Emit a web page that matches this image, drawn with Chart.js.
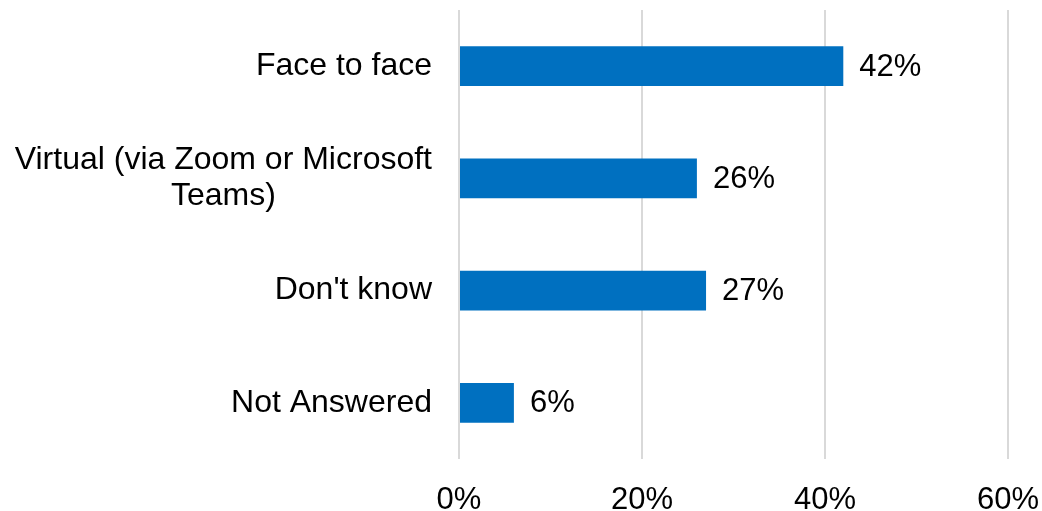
<!DOCTYPE html>
<html>
<head>
<meta charset="utf-8">
<title>Meeting format preference</title>
<script src="https://cdn.jsdelivr.net/npm/chart.js@4/dist/chart.umd.min.js"></script>
<style>
  html, body { margin: 0; padding: 0; background: #ffffff; }
  #wrap { width: 1042px; height: 511px; }
</style>
</head>
<body>
<div id="wrap"><canvas id="chart" width="1042" height="511"></canvas></div>
<script>
// Survey answers and their shares (%)
const categories = [
  'Face to face',
  ['Virtual (via Zoom or Microsoft', 'Teams)'],
  "Don't know",
  'Not Answered'
];
const values = [42, 26, 27, 6];
const tickValues = [0, 20, 40, 60];
const tickLabels = ['0%', '20%', '40%', '60%'];

const FONT = '"Liberation Sans", Arial, sans-serif';
const CAT_SIZE = 32;
const TICK_SIZE = 31;
const VALUE_SIZE = 31;
const BAR_COLOR = '#0070C0';

// Category labels: each label block ends a fixed gap left of the plot, lines centred on the block
const categoryLabels = {
  id: 'categoryLabels',
  afterDraw(chart) {
    const ctx = chart.ctx;
    const y = chart.scales.y;
    const right = chart.chartArea.left - 27;
    const lh = 36;
    ctx.save();
    ctx.font = CAT_SIZE + 'px ' + FONT;
    ctx.fillStyle = '#000000';
    ctx.textAlign = 'center';
    ctx.textBaseline = 'middle';
    categories.forEach((lab, i) => {
      const lines = Array.isArray(lab) ? lab : [lab];
      const w = Math.max(...lines.map(l => ctx.measureText(l).width));
      const cx = right - w / 2;
      const cy = y.getPixelForValue(i);
      lines.forEach((line, k) => {
        ctx.fillText(line, cx, cy + (k - (lines.length - 1) / 2) * lh);
      });
    });
    ctx.restore();
  }
};

// Value labels just past the end of each bar
const valueLabels = {
  id: 'valueLabels',
  afterDatasetsDraw(chart) {
    const ctx = chart.ctx;
    const meta = chart.getDatasetMeta(0);
    ctx.save();
    ctx.font = VALUE_SIZE + 'px ' + FONT;
    ctx.fillStyle = '#000000';
    ctx.textAlign = 'left';
    ctx.textBaseline = 'middle';
    meta.data.forEach((bar, i) => {
      ctx.fillText(values[i] + '%', bar.x + 16, bar.y + 1);
    });
    ctx.restore();
  }
};

new Chart(document.getElementById('chart'), {
  type: 'bar',
  data: {
    labels: categories,
    datasets: [{
      data: values,
      backgroundColor: BAR_COLOR,
      borderWidth: 0,
      categoryPercentage: 1.0,
      barPercentage: 0.355
    }]
  },
  options: {
    indexAxis: 'y',
    responsive: false,
    animation: false,
    layout: { padding: { top: 10, right: 0, left: 0, bottom: 0 } },
    plugins: {
      legend: { display: false },
      tooltip: { enabled: false },
      title: { display: false }
    },
    scales: {
      x: {
        min: 0,
        max: 60,
        afterBuildTicks(scale) {
          scale.ticks = tickValues.map(v => ({ value: v }));
        },
        afterFit(scale) {
          scale.height = 52;
          scale.paddingLeft = 0;
          scale.paddingRight = 34;
        },
        grid: { color: '#d9d9d9', lineWidth: 2, drawTicks: false },
        border: { display: false },
        ticks: {
          padding: 23,
          color: '#000000',
          font: { family: FONT, size: TICK_SIZE },
          maxRotation: 0,
          callback: (v) => tickLabels[tickValues.indexOf(v)]
        }
      },
      y: {
        afterFit(scale) { scale.width = 459; },
        grid: { display: false },
        border: { display: false },
        ticks: { display: false }
      }
    }
  },
  plugins: [categoryLabels, valueLabels]
});
</script>
</body>
</html>
